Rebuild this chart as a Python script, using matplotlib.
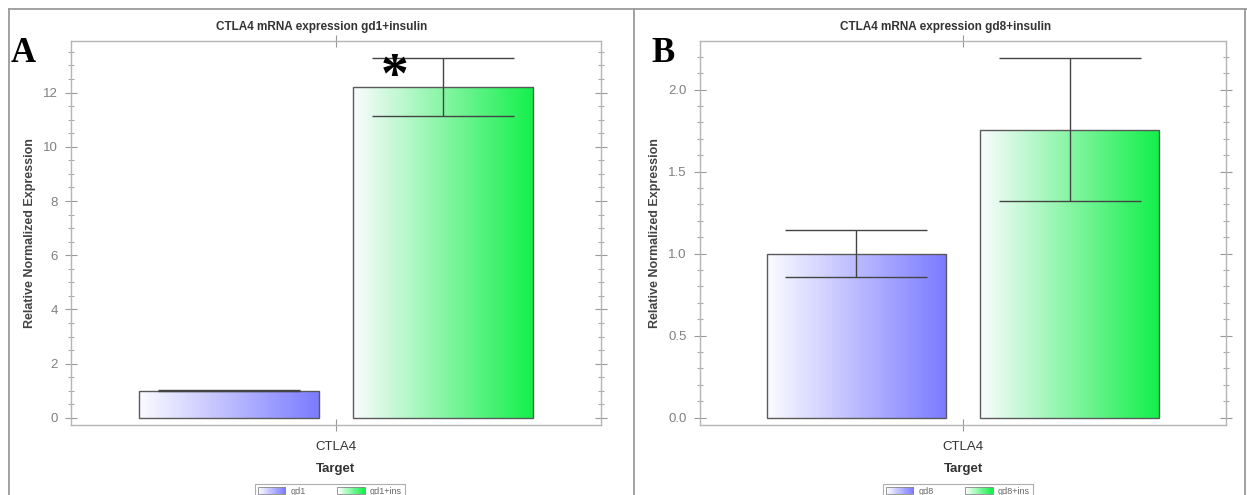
import numpy as np
import matplotlib
matplotlib.use('Agg')
import matplotlib.pyplot as plt
from matplotlib.patches import Rectangle, Patch
from matplotlib.legend_handler import HandlerBase
from matplotlib.lines import Line2D
from matplotlib.ticker import MultipleLocator, FixedLocator
import matplotlib.colors as mcolors

plt.rcParams['font.family'] = ['Liberation Sans', 'DejaVu Sans']

# ---------------- data ----------------
target = ['CTLA4']
titles = ['CTLA4 mRNA expression gd1+insulin', 'CTLA4 mRNA expression gd8+insulin']
panel_letters = ['A', 'B']

series_a = ['gd1', 'gd1+ins']
values_a = [1.0, 12.19]
err_low_a = [0.98, 11.12]
err_high_a = [1.02, 13.27]

series_b = ['gd8', 'gd8+ins']
values_b = [1.0, 1.754]
err_low_b = [0.855, 1.323]
err_high_b = [1.144, 2.19]

yticks_a = [0, 2, 4, 6, 8, 10, 12]
yticks_b = [0.0, 0.5, 1.0, 1.5, 2.0]
ytick_labels_b = ['0.0', '0.5', '1.0', '1.5', '2.0']
significance_a = '*'

bar_colors = ['#7b7bff', '#12f04a']

# ---------------- layout ----------------
W, H = 1247, 495
fig = plt.figure(figsize=(W / 100, H / 100), dpi=100)


def fx(px):
    return px / W


def fy(py):
    return 1 - py / H


class GradHandler(HandlerBase):
    def __init__(self, color):
        super().__init__()
        self.color = color

    def create_artists(self, legend, orig_handle, xdescent, ydescent, width,
                       height, fontsize, trans):
        arts = []
        n = 24
        c = np.array(mcolors.to_rgb(self.color))
        for i in range(n):
            f = (i + 0.5) / n
            col = (1 - f) * np.ones(3) + f * c
            arts.append(Rectangle((-xdescent + width * i / n, -ydescent), width / n + 0.3,
                                  height, facecolor=col, edgecolor='none', transform=trans))
        arts.append(Rectangle((-xdescent, -ydescent), width, height, facecolor='none',
                              edgecolor='#888888', lw=0.6, transform=trans))
        return arts


def draw_panel(rect, series, values, lo, hi, yticks, yticklabels, ylim, minor,
               title, title_x, letter, letter_x, legend_x):
    ax = fig.add_axes(rect)
    offsets = [-0.405, 0.405]
    width = 0.68
    xs = [0 + o for o in offsets]
    bars = ax.bar(xs, values, width=width, facecolor='none', edgecolor='#5a5a5a',
                  linewidth=1.0, zorder=3)
    for b, col in zip(bars, bar_colors):
        c = np.array(mcolors.to_rgb(col))
        t = np.linspace(0, 1, 256)
        grad = (1 - t)[:, None] * np.array([0.985, 0.985, 1.0])[None, :] + t[:, None] * c[None, :]
        img = ax.imshow(grad[None, :, :], extent=(b.get_x(), b.get_x() + b.get_width(),
                                                  0, b.get_height()),
                        aspect='auto', zorder=2, interpolation='bilinear')
        img.set_clip_path(b)
    for x, v, l, h in zip(xs, values, lo, hi):
        ax.errorbar([x], [v], yerr=[[v - l], [h - v]], fmt='none', ecolor='#444444',
                    elinewidth=1.0, capsize=51, capthick=1.0, zorder=4)
    ax.set_xlim(-1, 1)
    ax.set_ylim(*ylim)
    ax.set_xticks([0])
    ax.set_xticklabels(target, fontsize=9.5, color='#333333')
    ax.yaxis.set_major_locator(FixedLocator(yticks))
    ax.set_yticklabels(yticklabels, fontsize=9.5, color='#808080')
    ax.yaxis.set_minor_locator(MultipleLocator(minor))
    ax.tick_params(axis='y', which='major', direction='inout', length=9, width=0.8,
                   color='#999999', right=True, pad=5)
    ax.tick_params(axis='y', which='minor', direction='inout', length=5, width=0.8,
                   color='#aaaaaa', right=True)
    ax.tick_params(axis='x', which='major', direction='inout', length=9, width=0.8,
                   color='#999999', top=True, pad=7)
    for s in ax.spines.values():
        s.set_color('#b5b5b5')
        s.set_linewidth(1.0)
    ax.set_xlabel('Target', fontsize=9.5, fontweight='bold', color='#333333', labelpad=7)
    ax.set_ylabel('Relative Normalized Expression', fontsize=9, fontweight='bold',
                  color='#444444')
    fig.text(fx(title_x), fy(27), title, ha='center', va='center', fontsize=8.5,
             fontweight='bold', color='#333333')
    fig.text(fx(letter_x), fy(62), letter, ha='left', va='baseline', fontsize=25,
             fontweight='bold', family='Liberation Serif', color='black')
    handles = [Patch(label=s) for s in series]
    hmap = {h: GradHandler(c) for h, c in zip(handles, bar_colors)}
    leg = fig.legend(handles=handles, labels=series, loc='upper center',
                     bbox_to_anchor=(fx(legend_x), fy(479)), ncol=2, fontsize=6.5,
                     frameon=True, fancybox=False, edgecolor='#999999',
                     handlelength=3.0, handleheight=0.8, handletextpad=0.6,
                     columnspacing=3.5, borderpad=0.35, handler_map=hmap)
    leg.get_frame().set_linewidth(0.8)
    for t in leg.get_texts():
        t.set_color('#666666')
    return ax


axA = draw_panel([fx(71), fy(425), fx(601) - fx(71), fy(41) - fy(425)],
                 series_a, values_a, err_low_a, err_high_a, yticks_a,
                 [str(v) for v in yticks_a], (-0.26, 13.9), 0.5,
                 titles[0], 322, panel_letters[0], 11, 330)
axA.yaxis.set_label_coords(-0.066, 0.5)
axA.text(0.22, 12.55, significance_a, ha='center', va='center', fontsize=40,
         fontweight='bold', family='Liberation Serif', color='black', zorder=6)

axB = draw_panel([fx(700), fy(425), fx(1226) - fx(700), fy(41) - fy(425)],
                 series_b, values_b, err_low_b, err_high_b, yticks_b,
                 ytick_labels_b, (-0.045, 2.296), 0.1,
                 titles[1], 946, panel_letters[1], 651, 958)
axB.yaxis.set_label_coords(-0.074, 0.5)

# outer frame lines
for (x0, y0, x1, y1) in [(9, 9, 1247, 9), (9, 9, 9, 495), (634, 9, 634, 495), (1245, 9, 1245, 495)]:
    fig.add_artist(Line2D([fx(x0), fx(x1)], [fy(y0), fy(y1)], color='#9a9a9a', lw=1.3,
                          transform=fig.transFigure))

fig.savefig('out.png', dpi=100)
